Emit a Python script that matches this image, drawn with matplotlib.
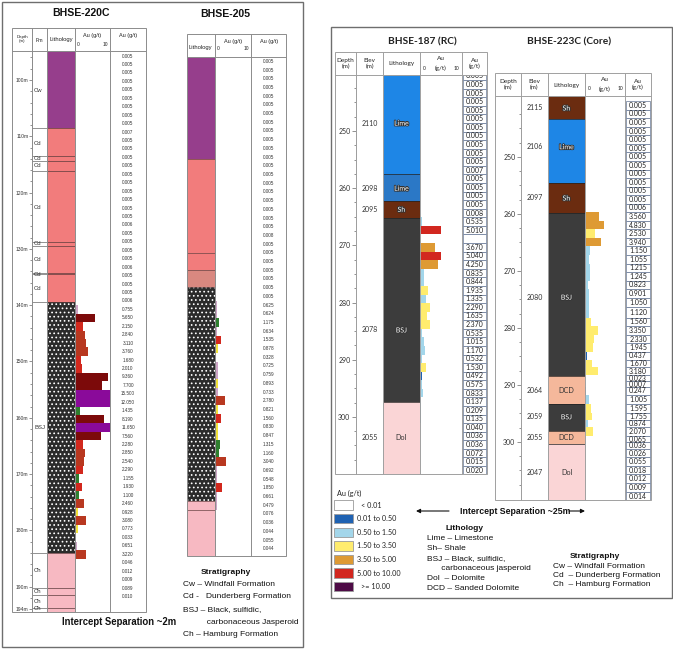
import matplotlib
matplotlib.use("Agg")
import matplotlib.pyplot as plt
import matplotlib.patheffects as pe
from matplotlib.font_manager import findfont, FontProperties
from matplotlib.patches import Rectangle
import numpy as np

# ======================= DATA =======================
# ---- BHSE-220C (1.5 m samples) ----
h220_first_from = 95.0
h220_sample_len = 1.5
h220_au = [0.005, 0.005, 0.005, 0.005, 0.005, 0.005, 0.005, 0.005, 0.005, 0.007,
           0.005, 0.005, 0.005, 0.005, 0.005, 0.005, 0.005, 0.005, 0.005, 0.005,
           0.006, 0.005, 0.005, 0.005, 0.005, 0.006, 0.005, 0.005, 0.005, 0.006,
           0.755, 5.650, 2.150, 2.840, 3.110, 3.760, 1.680, 2.010, 9.360, 7.700,
           15.500, 12.050, 1.435, 8.190, 11.650, 7.560, 2.280, 2.850, 2.540, 2.290,
           1.155, 1.930, 1.100, 2.460, 0.928, 3.080, 0.773, 0.033, 0.651, 3.220,
           0.046, 0.012, 0.009, 0.089, 0.010]
h220_lith_top = [94.8, 108.6, 139.5, 184.0]
h220_lith_bot = [108.6, 139.5, 184.0, 194.5]
h220_lith = ["Cw", "Cd", "BSJ", "Ch"]
h220_fm_bounds = [108.6, 113.5, 114.4, 116.2, 128.8, 129.5, 134.2, 134.5, 139.5,
                  184.0, 190.2, 191.5, 193.8]
h220_fm_labels = ["Cw", "Cd", "Cd", "Cd", "Cd", "Cd", "Cd", "Cd", "Cd", "BSJ",
                  "Ch", "Ch", "Ch", "Ch"]
h220_fm_depths = [101.8, 111.2, 113.9, 115.1, 122.6, 129.1, 131.8, 134.5, 137.1,
                  161.7, 187.2, 190.8, 192.7, 193.9]
h220_depth_major = [100, 110, 120, 130, 140, 150, 160, 170, 180, 190, 194]

# ---- BHSE-205 (1.5 m samples, relative depth) ----
h205_first_from = 0.0
h205_sample_len = 1.5
h205_au = [0.005, 0.005, 0.005, 0.005, 0.005, 0.005, 0.005, 0.005, 0.005, 0.005,
           0.005, 0.005, 0.005, 0.005, 0.005, 0.005, 0.005, 0.005, 0.005, 0.005,
           0.008, 0.005, 0.005, 0.005, 0.005, 0.005, 0.005, 0.005, 0.625, 0.624,
           1.175, 0.634, 1.535, 0.878, 0.328, 0.725, 0.759, 0.893, 0.733, 2.780,
           0.821, 1.560, 0.830, 0.847, 1.315, 1.160, 3.040, 0.692, 0.548, 1.850,
           0.661, 0.479, 0.076, 0.036, 0.044, 0.055, 0.044]
h205_lith_top = [0.0, 17.6, 33.8, 36.7, 39.7, 76.6, 78.1]
h205_lith_bot = [17.6, 33.8, 36.7, 39.7, 76.6, 78.1, 86.0]
h205_lith = ["Cw", "Cd", "Cd", "Cd2", "BSJ", "Ch", "Ch"]

# ---- BHSE-187 (RC, 1.5 m samples) ----
h187_first_from = 239.6
h187_sample_len = 1.5
h187_au = [0.005, 0.005, 0.005, 0.005, 0.005, 0.005, 0.005, 0.005, 0.005, 0.005,
           0.005, 0.007, 0.005, 0.005, 0.005, 0.005, 0.008, 0.535, 5.010, None,
           3.670, 5.040, 4.250, 0.835, 0.844, 1.935, 1.335, 2.290, 1.635, 2.370,
           0.535, 1.015, 1.170, 0.532, 1.530, 0.492, 0.575, 0.833, 0.137, 0.209,
           0.135, 0.040, 0.036, 0.036, 0.072, 0.015, 0.020]
h187_lith_top = [240.0, 257.5, 262.2, 265.2, 297.4]
h187_lith_bot = [257.5, 262.2, 265.2, 297.4, 310.5]
h187_lith = ["Lime", "Lime2", "Sh", "BSJ", "Dol"]
h187_label_depth = [248.6, 260.0, 263.7, 284.8, 303.7]
h187_label_text = ["Lime", "Lime", "Sh", "BSJ", "Dol"]
h187_elev = ["2110", "2098", "2095", "2078", "2055"]

# ---- BHSE-223C (Core, variable samples) ----
h223_from = [240.2, 241.7, 243.2, 244.7, 246.2, 247.7, 249.2, 250.7, 252.2, 253.7,
             255.2, 256.7, 258.2, 259.7, 261.2, 262.7, 264.2, 265.7, 267.2, 268.7,
             270.2, 271.7, 273.2, 274.7, 276.4, 278.2, 279.7, 281.2, 282.7, 284.2,
             285.6, 286.9, 288.25, 289.4, 290.35, 291.75, 293.4, 294.9, 296.15, 297.45,
             298.95, 300.1, 301.25, 302.7, 304.2, 305.7, 307.3, 308.85]
h223_to = h223_from[1:] + [310.4]
h223_au = [0.005, 0.005, 0.005, 0.005, 0.005, 0.005, 0.005, 0.005, 0.005, 0.005,
           0.005, 0.005, 0.006, 3.560, 4.830, 2.530, 3.940, 1.150, 1.055, 1.215,
           1.245, 0.823, 0.901, 1.050, 1.120, 1.560, 3.350, 2.330, 1.945, 0.437,
           1.670, 3.180, 0.023, 0.007, 0.247, 1.005, 1.595, 1.755, 0.874, 2.070,
           0.065, 0.036, 0.026, 0.055, 0.018, 0.012, 0.009, 0.014]
h223_lith_top = [239.0, 243.3, 254.6, 259.8, 288.4, 293.3, 298.1, 300.4]
h223_lith_bot = [243.3, 254.6, 259.8, 288.4, 293.3, 298.1, 300.4, 310.5]
h223_lith = ["Sh", "Lime", "Sh", "BSJ", "DCD", "BSJ", "DCD", "Dol"]
h223_label_depth = [241.4, 248.2, 257.2, 274.6, 290.9, 295.6, 299.2, 305.4]
h223_label_text = ["Sh", "Lime", "Sh", "BSJ", "DCD", "BSJ", "DCD", "Dol"]
h223_elev = ["2115", "2106", "2097", "2080", "2064", "2059", "2055", "2047"]

right_depth_major = [250, 260, 270, 280, 290, 300]

# Legend (right panel)
legend_labels = ["< 0.01", "0.01 to 0.50", "0.50 to 1.50", "1.50 to 3.50",
                 "3.50 to 5.00", "5.00 to 10.00", ">= 10.00"]
legend_colors = ["#FFFFFF", "#1F62B2", "#A3D6EA", "#FFEC6E", "#DE9A34", "#D2271F", "#4E0B46"]
lith_legend = ["Lime \u2013 Limestone", "Sh\u2013 Shale", "BSJ \u2013 Black, sulfidic,",
               "      carbonaceous jasperoid", "Dol  \u2013 Dolomite", "DCD \u2013 Sanded Dolomite"]
strat_left = ["Cw \u2013 Windfall Formation", "Cd -   Dunderberg Formation",
              "BSJ \u2013 Black, sulfidic,", "          carbonaceous Jasperoid",
              "Ch \u2013 Hamburg Formation"]
strat_right = ["Cw \u2013 Windfall Formation", "Cd  \u2013 Dunderberg Formation",
               "Ch  \u2013 Hamburg Formation"]

# ======================= STYLE =======================
plt.rcParams['hatch.linewidth'] = 0.7


def fam_ok(name):
    try:
        findfont(FontProperties(family=name), fallback_to_default=False)
        return True
    except Exception:
        return False


if fam_ok('Liberation Sans Narrow'):
    NARROW, NS = 'Liberation Sans Narrow', 1.0
else:
    NARROW, NS = 'Liberation Sans', 0.82
ARIAL = 'Liberation Sans'
CAL = 'Lato' if fam_ok('Lato') else 'DejaVu Sans'

left_pal = {"Cw": "#963E8C", "Cd": "#F27C7C", "Cd2": "#D98880", "BSJ": "#2B2B2B", "Ch": "#F7B9C2"}
right_pal = {"Lime": "#1E86E6", "Lime2": "#2B78C6", "Sh": "#6B2C10", "BSJ": "#3C3C3C",
             "DCD": "#F5B89B", "Dol": "#FAD5D6"}


def left_color(v):
    if v < 0.1:
        return 'none'
    if v < 0.76:
        return '#CDA4C6'
    if v < 1.0:
        return '#F2E23C'
    if v < 1.5:
        return '#2F7F2F'
    if v < 2.3:
        return '#D2281D'
    if v < 5.0:
        return '#B83820'
    if v < 10.0:
        return '#7C0A0A'
    return '#8A0A9A'


def right_color(v):
    if v is None or v < 0.01:
        return 'none'
    for lim, c in zip([0.5, 1.5, 3.5, 5.0, 10.0], legend_colors[1:6]):
        if v < lim:
            return c
    return legend_colors[6]


# ======================= FIGURE =======================
W, H = 673, 649
fig = plt.figure(figsize=(W / 100, H / 100), dpi=100)
fig.patch.set_facecolor('white')


def pax(x0, y0, x1, y1, z=1):
    ax = fig.add_axes([x0 / W, 1 - y1 / H, (x1 - x0) / W, (y1 - y0) / H])
    ax.set_zorder(z)
    ax.patch.set_visible(False)
    return ax


def track(x0, x1, y0, y1, dtop, dbot, xmax=1.0):
    ax = pax(x0, y0, x1, y1)
    ax.set_xlim(0, xmax)
    ax.set_ylim(dbot, dtop)
    ax.set_axis_off()
    return ax


def draw_lith(ax, tops, bots, kinds, pal, dotted=("BSJ",), line='#444', lines=True):
    for t, b, k in zip(tops, bots, kinds):
        if k in dotted:
            ax.barh(t, 1, height=b - t, align='edge', color=pal[k], edgecolor='white',
                    hatch='....', linewidth=0)
        else:
            ax.barh(t, 1, height=b - t, align='edge', color=pal[k], linewidth=0)
    if lines:
        ax.hlines(tops[1:], 0, 1, color=line, lw=0.5)


def draw_au(ax, froms, tos, vals, colorfn):
    f = np.asarray(froms, float)
    t = np.asarray(tos, float)
    v = np.array([0.0 if x is None else x for x in vals])
    ax.barh(f, v, height=t - f, align='edge', color=[colorfn(x) for x in vals], linewidth=0)


def draw_vals(ax, froms, tos, vals, fs, fam, color, boxes=False):
    for a, b, x in zip(froms, tos, vals):
        if x is not None:
            ax.text(0.5, (a + b) / 2, f"{x:.3f}", ha='center', va='center', fontsize=fs,
                    family=fam, color=color, clip_on=True)
    if boxes:
        f = np.asarray(froms, float)
        t = np.asarray(tos, float)
        ax.barh(f, 0.94, left=0.03, height=t - f, align='edge', color='none',
                edgecolor='#7E8DA6', linewidth=0.6)


def depth_axis(x, y0, y1, dtop, dbot, majors, minors, labels, fs, fam, tl=3.0, pad=1.0):
    ax = pax(x, y0, x + 1, y1, z=5)
    ax.set_xlim(0, 1)
    ax.set_ylim(dbot, dtop)
    for s in ('top', 'right', 'bottom'):
        ax.spines[s].set_visible(False)
    ax.spines['left'].set_linewidth(0.6)
    ax.spines['left'].set_color('#777777')
    ax.set_xticks([])
    ax.set_yticks(majors)
    ax.set_yticklabels(labels, fontsize=fs, family=fam, color='#333333')
    ax.set_yticks(minors, minor=True)
    ax.tick_params(axis='y', which='major', direction='out', length=tl, width=0.5,
                   color='#666666', pad=pad)
    ax.tick_params(axis='y', which='minor', direction='out', length=tl * 0.6, width=0.5,
                   color='#666666')
    return ax


def samples(first, step, n):
    f = [first + step * i for i in range(n)]
    return f, [x + step for x in f]


# overlay for frames and text
ov = fig.add_axes([0, 0, 1, 1])
ov.set_xlim(0, W)
ov.set_ylim(H, 0)
ov.set_axis_off()
ov.set_zorder(10)
ov.patch.set_visible(False)


def rect(x0, y0, x1, y1, lw=0.7, c='#8C8C8C', fc='none'):
    ov.add_patch(Rectangle((x0, y0), x1 - x0, y1 - y0, facecolor=fc, lw=lw, edgecolor=c))


def vl(x, y0, y1, lw=0.7, c='#8C8C8C'):
    ov.plot([x, x], [y0, y1], color=c, lw=lw, solid_capstyle='butt')


def hl(y, x0, x1, lw=0.7, c='#8C8C8C'):
    ov.plot([x0, x1], [y, y], color=c, lw=lw, solid_capstyle='butt')


def T(x, y, s, fs, fam=ARIAL, ha='center', va='center', w='normal', c='#222222', **kw):
    ov.text(x, y, s, fontsize=fs, family=fam, ha=ha, va=va, fontweight=w, color=c, **kw)


# panel frames
rect(2, 2, 303, 647, lw=1.0, c='#6E6E6E')
rect(331, 27, 672, 598, lw=1.0, c='#6E6E6E')

# ---------------- BHSE-220C ----------------
d0, d1 = 94.85, 194.5
y0, y1 = 51, 612
f220, t220 = samples(h220_first_from, h220_sample_len, len(h220_au))
ax = track(47, 75, y0, y1, d0, d1)
draw_lith(ax, h220_lith_top, h220_lith_bot, h220_lith, left_pal, lines=False)
ax.hlines(h220_fm_bounds, 0, 1, color='#5A3A3A', lw=0.5)
ax = track(32, 47, y0, y1, d0, d1)
ax.hlines(h220_fm_bounds, 0, 1, color='#666666', lw=0.5)
for lab, d in zip(h220_fm_labels, h220_fm_depths):
    ax.text(0.15, d, lab, fontsize=4.3, family=ARIAL, color='#333333', va='center', ha='left',
            clip_on=True)
ax = track(75, 110, y0, y1, d0, d1, xmax=10.0)
draw_au(ax, f220, t220, h220_au, left_color)
ax = track(110, 146, y0, y1, d0, d1)
draw_vals(ax, f220, t220, h220_au, 3.3, ARIAL, '#333333')
depth_axis(32, y0, y1, d0, d1, h220_depth_major, np.arange(96, 194, 2),
           [f"{m}m" for m in h220_depth_major], 3.6, ARIAL, tl=2.0, pad=0.5)
rect(12, 28, 146, 612)
for x in (32, 47, 75, 110):
    vl(x, 28, 612)
hl(51, 12, 146)
T(81, 13, "BHSE-220C", 9.2 * NS, NARROW, w='bold', c='#111111')
T(22, 39, "Depth\n(m)", 3.2, linespacing=1.0)
T(39.5, 40, "Fm", 3.8)
T(61, 40, "Lithology", 4.2)
T(92, 35, "Au (g/t)", 4.0)
T(76.5, 44, "0", 3.5, ha='left')
T(108, 44, "10", 3.5, ha='right')
T(128, 36, "Au (g/t)", 4.0)

# ---------------- BHSE-205 ----------------
d0, d1 = 0.0, 86.0
y0, y1 = 57, 556
f205, t205 = samples(h205_first_from, h205_sample_len, len(h205_au))
ax = track(187, 215, y0, y1, d0, d1)
draw_lith(ax, h205_lith_top, h205_lith_bot, h205_lith, left_pal, line='#6A4444')
ax = track(215, 251, y0, y1, d0, d1, xmax=10.0)
draw_au(ax, f205, t205, h205_au, left_color)
ax = track(251, 286, y0, y1, d0, d1)
draw_vals(ax, f205, t205, h205_au, 3.3, ARIAL, '#333333')
rect(187, 34, 286, 556)
for x in (215, 251):
    vl(x, 34, 556)
hl(57, 187, 286)
T(225, 14, "BHSE-205", 9.2 * NS, NARROW, w='bold', c='#111111')
T(200, 47, "Lithology", 4.2)
T(233, 41, "Au (g/t)", 4.0)
T(216.5, 48, "0", 3.5, ha='left')
T(249, 48, "10", 3.5, ha='right')
T(269, 41, "Au (g/t)", 4.0)

# left stratigraphy / separation
T(226, 572, "Stratigraphy", 7.3 * NS, NARROW, w='bold', c='#111111')
for s, yy in zip(strat_left, [584, 597, 610, 622, 635]):
    T(183, yy, s, 7.3 * NS, NARROW, ha='left', c='#111111')
T(119, 622, "Intercept Separation ~2m", 8.4 * NS, NARROW, w='bold', c='#111111')

# ---------------- BHSE-187 (RC) ----------------
d0, d1 = 240.2, 310.0
y0, y1 = 75, 474
f187, t187 = samples(h187_first_from, h187_sample_len, len(h187_au))
ax = track(383, 420, y0, y1, d0, d1)
draw_lith(ax, h187_lith_top, h187_lith_bot, h187_lith, right_pal, dotted=(), line='#222222')
for lab, d in zip(h187_label_text, h187_label_depth):
    if lab in ("Dol", "DCD"):
        ax.text(0.5, d, lab, fontsize=5.2, family=CAL, ha='center', va='center', color='#333333')
    else:
        ax.text(0.5, d, lab, fontsize=5.0, family=CAL, ha='center', va='center', color='white',
                path_effects=[pe.withStroke(linewidth=1.3, foreground='#333333')])
ax = track(356, 383, y0, y1, d0, d1)
for lab, d in zip(h187_elev, h187_label_depth):
    ax.text(0.5, d, lab, fontsize=5.0, family=CAL, ha='center', va='center', color='#333333')
ax = track(420, 462, y0, y1, d0, d1, xmax=10.0)
draw_au(ax, f187, t187, h187_au, right_color)
ax = track(462, 487, y0, y1, d0, d1)
draw_vals(ax, f187, t187, h187_au, 5.0, CAL, '#222222', boxes=True)
depth_axis(356, y0, y1, d0, d1, right_depth_major, np.arange(242.5, 310, 2.5),
           [str(m) for m in right_depth_major], 5.0, CAL, tl=3.0, pad=1.0)
rect(335, 52, 487, 474, c='#A0A0A0')
for x in (356, 383, 420, 462):
    vl(x, 52, 474, c='#A0A0A0')
hl(75, 335, 487, c='#A0A0A0')
T(422, 42, "BHSE-187 (RC)", 7.3, CAL, w='bold', c='#222222')
T(345.5, 63.5, "Depth\n(m)", 4.6, CAL, linespacing=1.1)
T(369.5, 63.5, "Elev\n(m)", 4.6, CAL, linespacing=1.1)
T(401.5, 64, "Lithology", 4.6, CAL)
T(441, 58.5, "Au", 4.6, CAL)
T(441, 68, "(g/t)", 4.6, CAL)
T(423, 68, "0", 3.6, CAL, ha='left')
T(459, 68, "10", 3.6, CAL, ha='right')
T(474.5, 63.5, "Au\n(g/t)", 4.6, CAL, linespacing=1.1)

# ---------------- BHSE-223C (Core) ----------------
d0, d1 = 239.3, 310.2
y0, y1 = 96, 500
ax = track(548, 585, y0, y1, d0, d1)
draw_lith(ax, h223_lith_top, h223_lith_bot, h223_lith, right_pal, dotted=(), line='#222222')
for lab, d in zip(h223_label_text, h223_label_depth):
    if lab in ("Dol", "DCD"):
        ax.text(0.5, d, lab, fontsize=5.2, family=CAL, ha='center', va='center', color='#333333')
    else:
        ax.text(0.5, d, lab, fontsize=5.0, family=CAL, ha='center', va='center', color='white',
                path_effects=[pe.withStroke(linewidth=1.3, foreground='#333333')])
ax = track(521, 548, y0, y1, d0, d1)
for lab, d in zip(h223_elev, h223_label_depth):
    ax.text(0.5, d, lab, fontsize=5.0, family=CAL, ha='center', va='center', color='#333333')
ax = track(585, 625, y0, y1, d0, d1, xmax=10.0)
draw_au(ax, h223_from, h223_to, h223_au, right_color)
ax = track(625, 651, y0, y1, d0, d1)
draw_vals(ax, h223_from, h223_to, h223_au, 5.0, CAL, '#222222', boxes=True)
depth_axis(521, y0, y1, d0, d1, right_depth_major, np.arange(242.5, 310, 2.5),
           [str(m) for m in right_depth_major], 5.0, CAL, tl=3.0, pad=1.0)
rect(495, 73, 651, 500, c='#A0A0A0')
for x in (521, 548, 585, 625):
    vl(x, 73, 500, c='#A0A0A0')
hl(96, 495, 651, c='#A0A0A0')
T(569, 42, "BHSE-223C (Core)", 7.3, CAL, w='bold', c='#222222')
T(508, 84.5, "Depth\n(m)", 4.6, CAL, linespacing=1.1)
T(534.5, 84.5, "Elev\n(m)", 4.6, CAL, linespacing=1.1)
T(566.5, 85, "Lithology", 4.6, CAL)
T(605, 79.5, "Au", 4.6, CAL)
T(605, 89, "(g/t)", 4.6, CAL)
T(588, 89, "0", 3.6, CAL, ha='left')
T(623, 89, "10", 3.6, CAL, ha='right')
T(638, 84.5, "Au\n(g/t)", 4.6, CAL, linespacing=1.1)

# ---------------- right legends ----------------
T(337, 493, "Au (g/t)", 5.2, CAL, ha='left')
for i, (lab, col) in enumerate(zip(legend_labels, legend_colors)):
    yy = 505 + 13.6 * i
    rect(334, yy - 4.7, 353, yy + 4.7, lw=0.6, c='#9A9A9A', fc=col)
    xx = 361 if i in (0, 6) else 357
    T(xx, yy, lab, 5.2, CAL, ha='left')

T(460, 511, "Intercept Separation ~25m", 6.3, ARIAL, ha='left', w='bold', c='#111111')
ov.annotate('', xy=(416, 511), xytext=(449, 511),
            arrowprops=dict(arrowstyle='-|>', lw=0.8, color='#111111', mutation_scale=6,
                            shrinkA=0, shrinkB=0))
ov.annotate('', xy=(585, 511), xytext=(569, 511),
            arrowprops=dict(arrowstyle='-|>', lw=0.8, color='#111111', mutation_scale=6,
                            shrinkA=0, shrinkB=0))

T(464, 529, "Lithology", 6.0, ARIAL, w='bold', c='#111111')
for s, yy in zip(lith_legend, [539, 549, 559, 569, 579, 589]):
    T(427, yy, s, 6.0, ARIAL, ha='left', c='#111111')
T(595, 556, "Stratigraphy", 6.0, ARIAL, w='bold', c='#111111')
for s, yy in zip(strat_right, [566, 575.5, 585]):
    T(553, yy, s, 6.0, ARIAL, ha='left', c='#111111')

fig.savefig("out.png", dpi=100, facecolor='white')
